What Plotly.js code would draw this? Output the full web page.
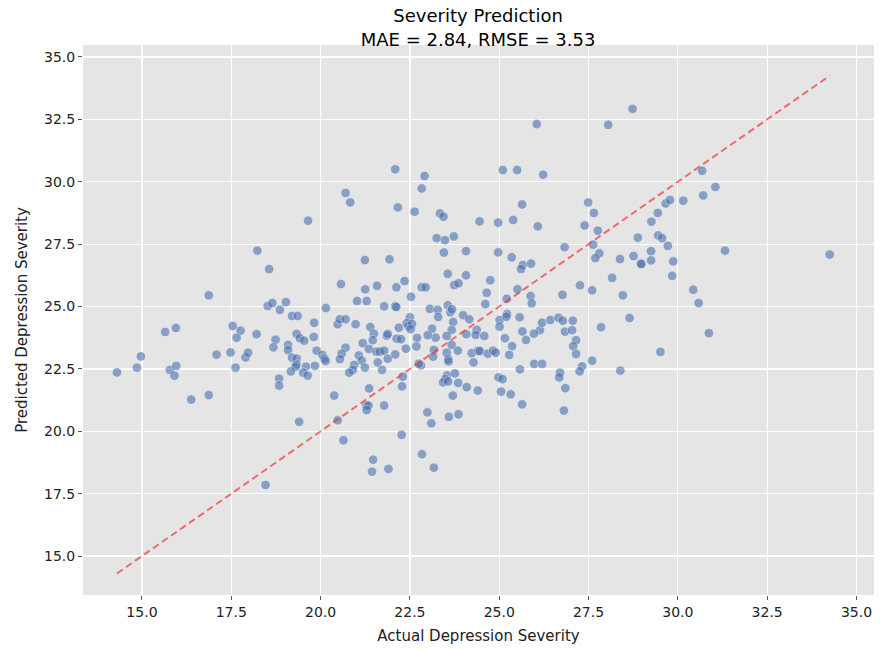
<!DOCTYPE html>
<html>
<head>
<meta charset="utf-8">
<script src="https://cdn.plot.ly/plotly-3.0.1.min.js"></script>
<style>html,body{margin:0;padding:0;background:#fff;}#chart{width:887px;height:650px;}</style>
</head>
<body>
<div id="chart"></div>
<script>
const chartTitle = "Severity Prediction<br>MAE = 2.84, RMSE = 3.53";
const xLabel = "Actual Depression Severity";
const yLabel = "Predicted Depression Severity";
const tickValues = [15.0, 17.5, 20.0, 22.5, 25.0, 27.5, 30.0, 32.5, 35.0];

const actual = [
14.30,14.86,14.97,15.65,15.95,15.78,15.96,15.91,16.87,16.38,16.87,17.09,17.48,17.54,17.76,17.65,17.90,17.97,17.62,18.21,
18.23,18.56,18.52,18.65,18.86,19.03,19.20,19.36,18.74,18.68,19.09,19.09,19.20,19.33,19.33,19.30,19.17,18.84,18.84,19.33,
19.42,19.54,19.40,18.46,19.65,19.82,19.81,19.89,20.05,20.11,20.14,19.84,19.59,19.51,19.64,20.15,20.70,20.83,20.57,20.48,
20.54,20.70,20.70,20.59,20.54,20.38,20.48,20.64,20.98,21.02,21.29,21.24,21.25,21.58,21.39,21.49,21.46,21.18,21.35,21.56,
21.66,21.78,21.60,21.88,21.07,21.15,20.94,21.24,20.90,20.80,21.72,21.36,21.28,21.34,21.29,21.78,21.47,21.44,21.90,21.93,
21.78,22.09,22.12,22.12,22.35,22.09,22.16,22.63,22.91,22.83,22.83,22.94,22.53,22.50,22.41,22.46,22.56,22.52,22.19,21.85,
21.88,22.13,22.25,22.70,22.68,22.39,22.09,22.81,22.75,22.30,22.28,22.27,22.99,23.10,22.84,23.17,23.06,23.28,23.29,23.12,
23.22,23.00,23.17,23.15,23.34,23.44,23.25,23.73,23.48,23.45,23.56,23.74,23.86,23.56,23.63,23.68,23.71,23.67,23.53,23.67,
23.84,23.53,23.57,23.58,23.54,23.76,23.49,23.43,23.57,23.85,23.70,23.59,23.86,24.09,24.40,24.07,24.07,23.99,24.16,24.08,
24.37,24.34,24.23,24.41,24.28,24.45,24.97,25.39,24.75,24.65,24.61,24.58,24.46,24.68,24.83,24.90,24.97,25.35,25.10,25.50,
25.64,25.66,25.61,25.89,25.51,25.21,25.88,25.91,25.57,25.01,25.22,25.20,25.01,25.65,25.75,25.36,25.16,25.28,24.98,25.09,
25.58,25.98,26.20,25.05,25.32,25.64,26.05,26.23,26.08,26.14,25.97,26.20,26.43,26.66,26.78,27.06,26.84,27.04,27.15,27.07,
27.15,26.77,26.83,26.70,26.68,26.85,26.81,27.26,27.60,27.39,27.49,27.65,27.76,27.63,27.80,27.69,27.85,27.60,27.32,27.25,
28.05,28.73,28.38,28.16,28.46,28.65,28.39,28.76,28.96,28.98,28.88,29.25,29.25,29.26,29.44,29.45,29.56,29.72,29.66,29.78,
30.15,29.51,29.87,29.84,30.68,31.05,30.71,31.32,34.25,30.43,30.58,30.87
];
const predicted = [
22.36,22.55,23.00,23.98,24.14,22.46,22.62,22.23,25.45,21.27,21.45,23.07,23.16,24.22,24.03,23.75,22.96,23.15,22.55,23.89,
27.24,26.50,25.02,25.14,24.87,25.18,24.62,24.62,23.67,23.36,23.46,23.25,22.95,22.91,22.67,22.59,22.40,22.11,21.83,23.90,
23.73,23.63,20.38,17.85,28.44,24.35,23.78,23.23,23.06,22.91,22.82,22.62,22.59,22.35,22.23,24.94,29.55,29.17,25.90,24.29,
24.49,24.49,23.35,23.11,22.89,21.43,20.44,19.64,24.29,25.22,25.22,26.86,25.69,25.83,24.18,23.91,23.65,23.53,23.30,23.19,
23.19,23.23,22.76,22.91,23.04,22.83,22.66,22.55,22.46,22.35,22.46,21.72,21.03,21.03,20.85,21.03,18.86,18.38,18.49,26.89,
25.01,25.01,24.98,25.77,26.02,30.50,28.97,28.80,30.23,29.73,25.77,25.77,25.39,24.57,24.33,24.22,24.30,24.09,24.15,23.83,
23.90,23.71,23.69,23.74,23.40,23.31,23.08,22.64,22.71,22.19,21.80,19.86,20.76,20.32,19.08,18.54,24.91,24.87,24.58,24.11,
23.75,23.85,23.26,22.99,28.73,28.60,27.74,27.81,27.66,27.16,26.31,25.86,25.93,25.05,24.77,24.89,24.38,24.06,23.82,23.46,
23.23,23.15,22.90,22.80,22.24,22.32,22.09,21.96,22.00,21.94,21.43,20.58,20.68,21.77,21.63,27.22,26.25,24.65,24.49,23.89,
24.06,23.86,23.13,23.23,22.76,28.41,28.36,28.47,26.05,25.55,25.10,23.82,23.21,23.11,23.23,23.15,27.17,26.97,30.47,30.47,
29.09,26.66,26.50,26.72,25.69,25.31,25.42,25.13,24.57,24.46,24.70,24.59,24.19,24.00,23.66,23.41,23.73,23.06,22.16,22.09,
22.48,22.70,22.70,21.59,21.48,21.08,32.31,30.28,28.21,24.05,23.91,24.35,24.46,24.55,24.43,24.43,23.99,24.05,23.65,23.41,
23.10,25.47,27.38,22.35,22.16,21.73,20.83,25.85,25.65,28.25,29.17,28.75,28.04,27.48,27.13,26.94,24.17,22.83,22.60,22.40,
32.28,32.92,26.90,26.15,25.45,24.54,22.43,27.02,26.72,26.70,27.76,27.22,26.85,28.40,28.75,27.85,27.74,27.43,29.13,29.27,
29.24,23.18,26.81,26.23,30.44,29.79,29.45,27.24,27.08,25.67,25.14,23.93
];

const lo = Math.min(...actual), hi = Math.max(...actual);

const traces = [
  {
    x: actual, y: predicted, type: 'scatter', mode: 'markers',
    marker: {size: 9.5, color: '#4C72B0', opacity: 0.6, line: {color: '#ffffff', width: 0.6}},
    hoverinfo: 'x+y', showlegend: false
  },
  {
    x: [lo, hi], y: [lo, hi], type: 'scatter', mode: 'lines',
    line: {color: 'rgba(240,60,60,0.72)', width: 2, dash: '7px,4px'},
    showlegend: false, hoverinfo: 'skip'
  }
];

const axisCommon = {
  showgrid: true, gridcolor: '#ffffff', gridwidth: 1.2,
  zeroline: false, showline: false,
  ticks: 'outside', ticklen: 4, tickwidth: 1, tickcolor: '#555555',
  tickvals: tickValues, tickformat: '.1f',
  tickfont: {family: 'DejaVu Sans', size: 14, color: '#222222'},
  automargin: false
};

const layout = {
  width: 887, height: 650,
  margin: {l: 83, r: 13, t: 45, b: 55},
  paper_bgcolor: '#ffffff', plot_bgcolor: '#E5E5E5',
  font: {family: 'DejaVu Sans', color: '#000000'},
  title: {
    text: chartTitle, x: 0.539, xanchor: 'center', yref: 'container', y: 0.966, yanchor: 'middle',
    font: {family: 'DejaVu Sans', size: 18, color: '#000000'}
  },
  xaxis: Object.assign({}, axisCommon, {
    range: [13.35, 35.49],
    title: {text: xLabel, standoff: 11, font: {family: 'DejaVu Sans', size: 15, color: '#222222'}}
  }),
  yaxis: Object.assign({}, axisCommon, {
    range: [13.44, 35.48],
    title: {text: yLabel, standoff: 12, font: {family: 'DejaVu Sans', size: 15, color: '#222222'}}
  })
};

Plotly.newPlot('chart', traces, layout, {displayModeBar: false, staticPlot: true});
</script>
</body>
</html>
